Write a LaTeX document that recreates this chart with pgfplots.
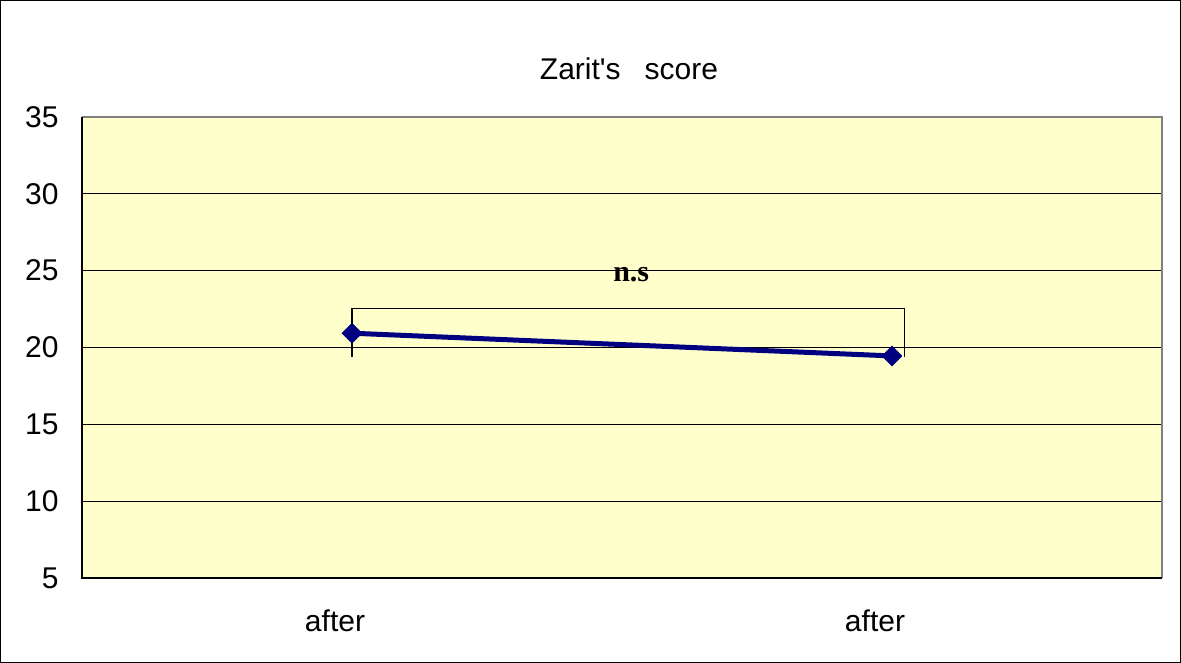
\documentclass[border=0pt]{standalone}
\usepackage{pgfplots}
\pgfplotsset{compat=1.18}
\usepackage{fontspec}
\setmainfont{Liberation Sans}
\newfontfamily\serifbold{Liberation Serif}
\definecolor{plotbg}{HTML}{FFFFCC}
\definecolor{navyline}{HTML}{000080}
\begin{document}
\fontsize{15bp}{18bp}\selectfont
\begin{tikzpicture}
\begin{axis}[
  scale only axis,
  width=540bp, height=230.5bp,
  xmin=-0.5, xmax=1.5,
  ymin=5, ymax=35,
  ytick={5,10,...,35},
  xtick={0,1},
  xticklabels={after,after},
  /pgf/number format/assume math mode=true,
  axis background/.style={fill=plotbg},
  axis line style={draw=none},
  ymajorgrids,
  y grid style={black, line width=0.5bp},
  tick align=inside,
  major tick length=4.5bp,
  y tick style={black, line width=0.5bp},
  x tick style={draw=none},
  extra x ticks={0.5},
  extra x tick labels={},
  extra x tick style={grid=none, tick style={black, line width=0.5bp, draw=black}},
  ticklabel style={font=\fontsize{15bp}{18bp}\selectfont},
  yticklabel style={inner sep=0pt, xshift=-11.5bp},
  xticklabel style={anchor=base, inner sep=0pt, yshift=-26.9bp, xshift=-8.5bp},
  title={Zarit\textquotesingle s\hspace{0.8em}score},
  every axis title shift=0pt,
  title style={at={(0.5065,1)}, anchor=base, inner sep=0pt, yshift=18.5bp, font=\fontsize{15bp}{18bp}\selectfont},
  clip=false,
]
\addplot[black, line width=0.75bp, mark=none] coordinates {(0,19.4) (0,22.55) (1.023,22.55) (1.023,19.4)};
\addplot[navyline, line width=2.5bp, mark=square*, mark size=3.5bp, mark options={rotate=45, fill=navyline, draw=navyline, line width=0.3bp}] coordinates {(0,20.93) (1,19.45)};
\node[anchor=base, inner sep=0pt, font=\serifbold\bfseries\fontsize{15bp}{18bp}\selectfont] at (axis cs:0.517,24.28) {n.s};
\draw[gray, line width=0.6bp] (rel axis cs:0,1) -- (rel axis cs:1,1) -- (rel axis cs:1,0);
\draw[black, line width=0.6bp] (rel axis cs:0,1) -- (rel axis cs:0,0) -- (rel axis cs:1,0);
\draw[black, line width=0.6bp] ([shift={(-40.7bp,-42.2bp)}]rel axis cs:0,0) rectangle ([shift={(9.2bp,58.2bp)}]rel axis cs:1,1);
\end{axis}
\end{tikzpicture}
\end{document}
